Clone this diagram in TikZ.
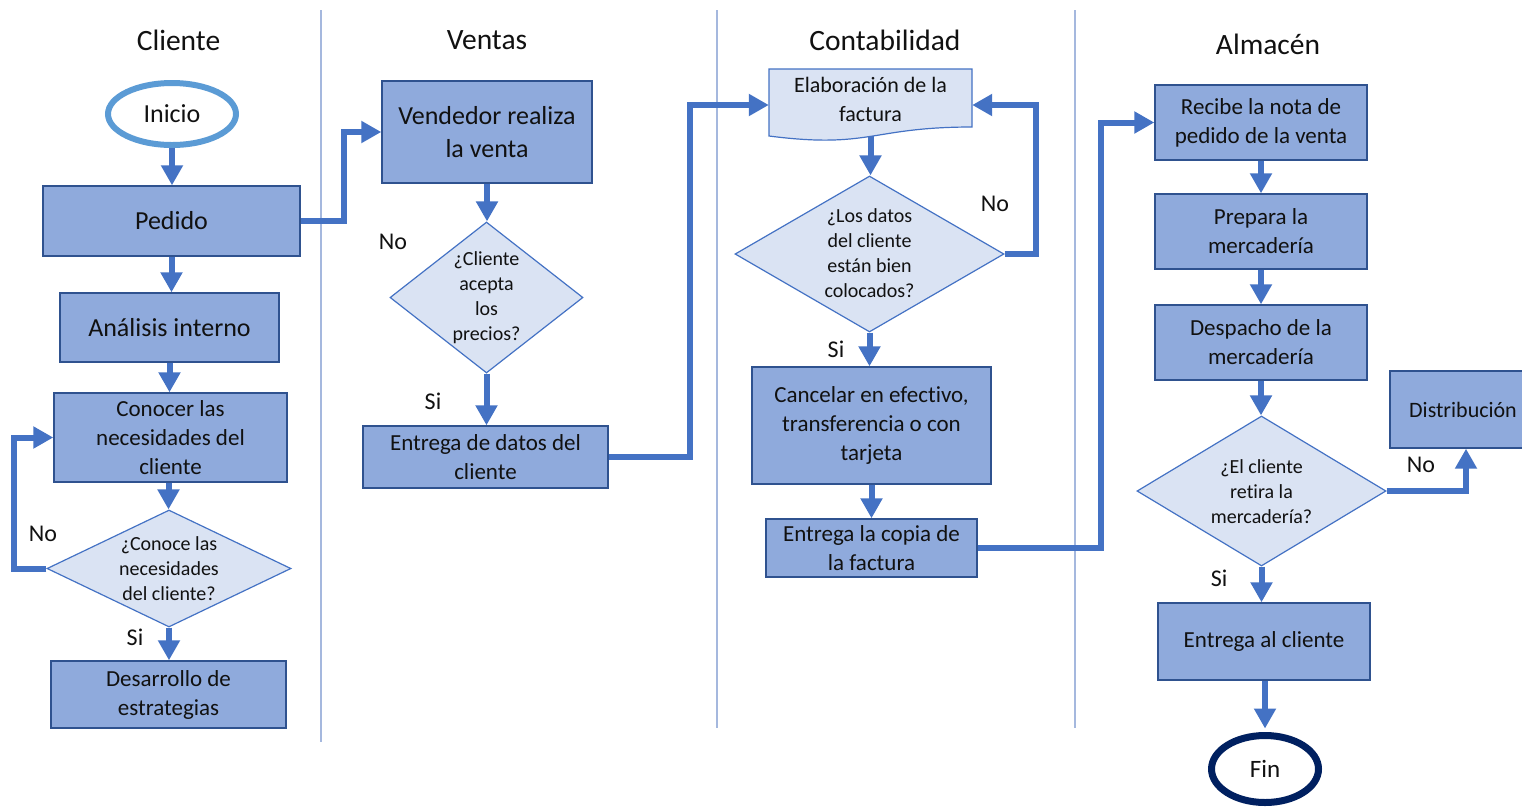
\documentclass[tikz,border=0pt]{standalone}
\usepackage{fontspec}
\setmainfont[Ligatures=NoCommon]{Carlito}
\usetikzlibrary{shapes.geometric,arrows.meta}
\definecolor{boxfill}{HTML}{8FAADC}
\definecolor{boxdraw}{HTML}{2F528F}
\definecolor{dfill}{HTML}{DAE3F3}
\definecolor{ddraw}{HTML}{4472C4}
\definecolor{arrc}{HTML}{4472C4}
\definecolor{inic}{HTML}{5B9BD5}
\definecolor{finc}{HTML}{002060}
\definecolor{lanec}{HTML}{A5B8DE}
\definecolor{txt}{HTML}{111111}
\begin{document}
\begin{tikzpicture}[x=1pt,y=-1pt,
  box/.style={rectangle, draw=boxdraw, fill=boxfill, line width=1.4pt, align=center, inner sep=0pt, text=txt, font=\fontsize{23}{29}\selectfont},
  bigbox/.style={box, font=\fontsize{26}{33}\selectfont},
  dia/.style={diamond, draw=ddraw, fill=dfill, line width=1.2pt, inner sep=0pt},
  dtext/.style={align=center, text=txt, font=\fontsize{20}{25}\selectfont},
  arr/.style={draw=arrc, line width=6pt, -{Triangle[length=20pt,width=21pt]}},
  lab/.style={text=txt, font=\fontsize{24}{28}\selectfont},
  ttl/.style={text=txt, font=\fontsize{29.5}{34}\selectfont},
  lane/.style={draw=lanec, line width=1.2pt},
  doc/.style={draw=ddraw, fill=dfill, line width=1.2pt}
]
\useasboundingbox (0,0) rectangle (1522,807);
\fill[white] (0,0) rectangle (1522,807);

% lane separators
\draw[lane] (321,10) -- (321,742);
\draw[lane] (717,10) -- (717,728);
\draw[lane] (1075,10) -- (1075,728);

% titles
\node[ttl] (t1) at (178.5,40) {Cliente};
\node[ttl] (t2) at (487,40) {Ventas};
\node[ttl] (t3) at (885,40) {Contabilidad};
\node[ttl] (t4) at (1268,44) {Almacén};

% Cliente lane
\node[ellipse, draw=inic, line width=6pt, fill=white, minimum width=128, minimum height=62, inner sep=0pt, text=txt, font=\fontsize{26}{30}\selectfont] (inicio) at (172,114) {Inicio};
\node[bigbox, minimum width=257, minimum height=70] (pedido) at (171.5,221) {Pedido};
\node[bigbox, minimum width=219, minimum height=69] (analisis) at (169.5,327.5) {Análisis interno};
\node[box, minimum width=233, minimum height=89] (conocer) at (170.5,437.5) {Conocer las\\necesidades del\\cliente};
\node[dia, minimum width=244, minimum height=117] (d1) at (169,568.5) {};
\node[dtext] (d1t) at (169,569) {¿Conoce las\\necesidades\\del cliente?};
\node[box, minimum width=235, minimum height=67] (desarrollo) at (168.5,694.5) {Desarrollo de\\estrategias};
\node[lab] (no1) at (43,534) {No};
\node[lab] (si1) at (135,637) {Si};

% Ventas lane
\node[bigbox, minimum width=210, minimum height=102] (vendedor) at (487,132) {Vendedor realiza\\la venta};
\node[dia, minimum width=193, minimum height=151] (d2) at (486.5,297.5) {};
\node[dtext] (d2t) at (486.5,297.5) {¿Cliente\\acepta\\los\\precios?};
\node[box, minimum width=245, minimum height=62] (entrega) at (485.5,457) {Entrega de datos del\\cliente};
\node[lab] (no2) at (393,242) {No};
\node[lab] (si2) at (433,401) {Si};

% Contabilidad lane
\draw[doc] (769,69) -- (972,69) -- (972,127) .. controls (870.5,127) and (870.5,149) .. (769,136) -- cycle;
\node[rectangle, minimum width=203, minimum height=67, inner sep=0pt] (elab) at (870.5,102.5) {};
\node[align=center, text=txt, font=\fontsize{22}{29}\selectfont] (elabt) at (870.5,99.5) {Elaboración de la\\factura};
\node[dia, minimum width=269, minimum height=156] (d3) at (869.5,254) {};
\node[dtext] (d3t) at (869.5,253.5) {¿Los datos\\del cliente\\están bien\\colocados?};
\node[box, minimum width=239, minimum height=117] (cancelar) at (871.5,425.5) {Cancelar en efectivo,\\transferencia o con\\tarjeta};
\node[box, minimum width=211, minimum height=58] (copia) at (871.5,548) {Entrega la copia de\\la factura};
\node[lab] (no3) at (995,204) {No};
\node[lab] (si3) at (836,349) {Si};

% Almacen lane
\node[box, minimum width=212, minimum height=75] (recibe) at (1261,122.5) {Recibe la nota de\\pedido de la venta};
\node[box, minimum width=212, minimum height=75] (prepara) at (1261,231.5) {Prepara la\\mercadería};
\node[box, minimum width=212, minimum height=75] (despacho) at (1261,342.5) {Despacho de la\\mercadería};
\node[dia, minimum width=249, minimum height=150] (d4) at (1261.5,491) {};
\node[dtext] (d4t) at (1261.5,492) {¿El cliente\\retira la\\mercadería?};
\node[box, minimum width=146, minimum height=77, font=\fontsize{22}{29}\selectfont] (distrib) at (1463,409.5) {Distribución};
\node[box, minimum width=212, minimum height=77] (entcli) at (1264,641.5) {Entrega al cliente};
\node[ellipse, draw=finc, line width=7pt, fill=white, minimum width=107, minimum height=67, inner sep=0pt, text=txt, font=\fontsize{25}{29}\selectfont] (fin) at (1265,769) {Fin};
\node[lab] (no4) at (1421,465) {No};
\node[lab] (si4) at (1219,578) {Si};

% connectors
\draw[arr] (inicio.south) -- (inicio.south |- pedido.north);
\draw[arr] (pedido.south) -- (pedido.south |- analisis.north);
\draw[arr] (analisis.south) -- (analisis.south |- conocer.north);
\draw[arr] ([xshift=-2pt]conocer.south) -- ([xshift=-2pt]conocer.south |- d1.north);
\draw[arr] (d1.south) -- (d1.south |- desarrollo.north);
\draw[arr] (d1.west) -- ++(-32,0) |- (conocer.west);
\draw[arr] (pedido.east) -- ++(43,0) |- (vendedor.west);

\draw[arr] (vendedor.south) -- (vendedor.south |- d2.north);
\draw[arr] (d2.south) -- (d2.south |- entrega.north);
\draw[arr] (entrega.east) -- ++(81,0) |- ([yshift=-2.5pt]elab.west);

\draw[arr] (elab.south) -- (elab.south |- d3.north);
\draw[arr] (d3.east) -- ++(31,0) |- ([yshift=-2.5pt]elab.east);
\draw[arr] (d3.south) -- (d3.south |- cancelar.north);
\draw[arr] (cancelar.south) -- (cancelar.south |- copia.north);
\draw[arr] (copia.east) -- ++(123,0) |- (recibe.west);

\draw[arr] (recibe.south) -- (recibe.south |- prepara.north);
\draw[arr] (prepara.south) -- (prepara.south |- despacho.north);
\draw[arr] (despacho.south) -- (despacho.south |- d4.north);
\draw[arr] (d4.south) -- (d4.south |- entcli.north);
\draw[arr] (d4.east) -| ([xshift=3pt]distrib.south);
\draw[arr] ([xshift=1pt]entcli.south) -- ([yshift=3.5pt]fin.north);
\end{tikzpicture}
\end{document}
